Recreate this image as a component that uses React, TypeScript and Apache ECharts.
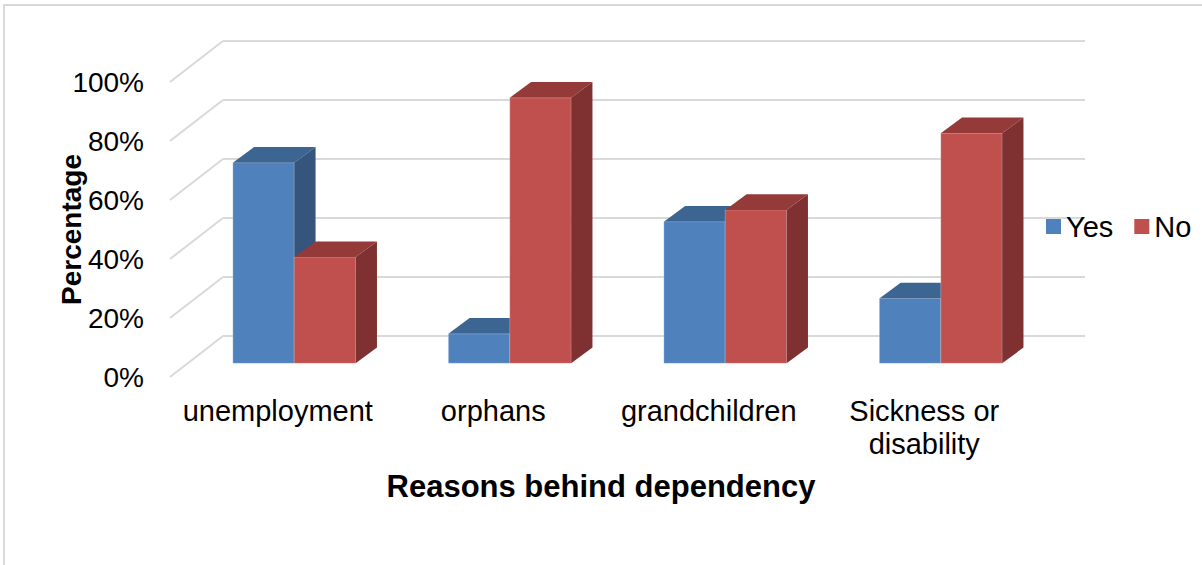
import React, { useEffect, useRef } from "react";
import * as echarts from "echarts";

const categories = ["unemployment", "orphans", "grandchildren", "Sickness or\ndisability"];
const yesValues = [68, 10, 48, 22];
const noValues = [36, 90, 52, 78];
const yTicks = [0, 20, 40, 60, 80, 100];

const FONT = '"Liberation Sans", Arial, sans-serif';

const DEPTH = [53, -41];
const FRONT = [16.5, -13.7];
const BAR_D = [21.3, -15.7];
const BAR_FRAC = 0.285;

const BLUE = ["#4F81BD", "#3D6592", "#35557C"];
const RED = ["#C0504D", "#943B39", "#7E3130"];

function makeBar(side: number, colors: string[]) {
  return (params: any, api: any) => {
    const i = api.value(0);
    const v = api.value(1);
    const base = api.coord([i, 0]);
    const top = api.coord([i, v]);
    const bw = api.size([1, 0])[0] * BAR_FRAC;
    const x0 = base[0] + (side === 0 ? -bw : 0) + FRONT[0];
    const x1 = x0 + bw;
    const yb = base[1] + FRONT[1];
    const yt = top[1] + FRONT[1];
    return {
      type: "group",
      children: [
        {
          type: "rect",
          shape: { x: x0, y: yt, width: bw, height: yb - yt },
          style: { fill: colors[0], stroke: "rgba(255,255,255,0.25)", lineWidth: 1 },
        },
        {
          type: "polygon",
          shape: {
            points: [
              [x0, yt],
              [x1, yt],
              [x1 + BAR_D[0], yt + BAR_D[1]],
              [x0 + BAR_D[0], yt + BAR_D[1]],
            ],
          },
          style: { fill: colors[1] },
        },
        {
          type: "polygon",
          shape: {
            points: [
              [x1, yt],
              [x1 + BAR_D[0], yt + BAR_D[1]],
              [x1 + BAR_D[0], yb + BAR_D[1]],
              [x1, yb],
            ],
          },
          style: { fill: colors[2] },
        },
      ],
    };
  };
}

function gridRender(params: any, api: any) {
  const cs = params.coordSys;
  const y = api.coord([0, api.value(1)])[1];
  const left = cs.x;
  const right = cs.x + cs.width;
  const style = { stroke: "#D9D9D9", lineWidth: 2 };
  return {
    type: "group",
    children: [
      {
        type: "line",
        shape: { x1: left, y1: y, x2: left + DEPTH[0], y2: y + DEPTH[1] },
        style,
      },
      {
        type: "line",
        shape: { x1: left + DEPTH[0], y1: y + DEPTH[1], x2: right + DEPTH[0], y2: y + DEPTH[1] },
        style,
      },
    ],
  };
}

export default function App() {
  const ref = useRef<HTMLDivElement>(null);
  useEffect(() => {
    const chart = echarts.init(ref.current!, null, { renderer: "svg" });
    chart.setOption({
      animation: false,
      backgroundColor: "#ffffff",
      textStyle: { fontFamily: FONT },
      graphic: [
        {
          type: "rect",
          shape: { x: 4, y: 5, width: 1400, height: 800 },
          style: { fill: "none", stroke: "#D9D9D9", lineWidth: 2 },
          silent: true,
          z: -10,
        },
      ],
      grid: { left: 170, top: 82, width: 862, height: 295 },
      legend: {
        data: ["Yes", "No"],
        left: 1041,
        top: 207,
        icon: "rect",
        itemWidth: 15,
        itemHeight: 15,
        itemGap: 21,
        textStyle: { fontFamily: FONT, fontSize: 29, color: "#000000" },
      },
      xAxis: {
        type: "category",
        data: categories,
        axisLine: { show: false },
        axisTick: { show: false },
        axisLabel: {
          margin: 17,
          fontFamily: FONT,
          fontSize: 29,
          lineHeight: 33,
          color: "#000000",
          interval: 0,
        },
        name: "Reasons behind dependency",
        nameLocation: "middle",
        nameGap: 94,
        nameMoveOverlap: false,
        nameTextStyle: { fontFamily: FONT, fontSize: 31, fontWeight: "bold", color: "#000000" },
      },
      yAxis: {
        type: "value",
        min: 0,
        max: 100,
        interval: 20,
        axisLine: { show: false },
        axisTick: { show: false },
        splitLine: { show: false },
        axisLabel: {
          formatter: "{value}%",
          margin: 26,
          fontFamily: FONT,
          fontSize: 28,
          color: "#000000",
        },
        name: "Percentage",
        nameLocation: "middle",
        nameGap: 85,
        nameMoveOverlap: false,
        nameTextStyle: { fontFamily: FONT, fontSize: 28, fontWeight: "bold", color: "#000000" },
      },
      series: [
        {
          name: "grid",
          type: "custom",
          silent: true,
          renderItem: gridRender,
          data: yTicks.map((v) => [0, v]),
          z: 1,
        },
        {
          name: "Yes",
          type: "custom",
          renderItem: makeBar(0, BLUE),
          itemStyle: { color: BLUE[0] },
          data: yesValues.map((v, i) => [i, v]),
          z: 2,
        },
        {
          name: "No",
          type: "custom",
          renderItem: makeBar(1, RED),
          itemStyle: { color: RED[0] },
          data: noValues.map((v, i) => [i, v]),
          z: 3,
        },
      ],
    });
    return () => chart.dispose();
  }, []);
  return (
    <div
      ref={ref}
      style={{ position: "fixed", left: 0, top: 0, width: 1202, height: 565, background: "#fff" }}
    />
  );
}
